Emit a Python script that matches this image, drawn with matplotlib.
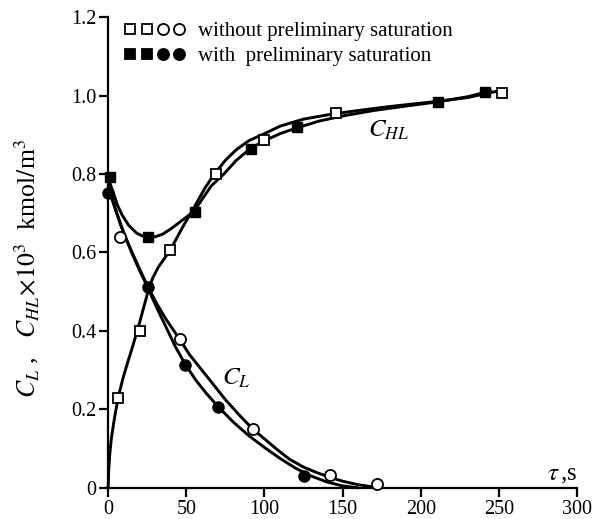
import matplotlib
matplotlib.use("Agg")
import matplotlib.pyplot as plt
from matplotlib.lines import Line2D
from matplotlib.legend_handler import HandlerTuple

plt.rcParams['font.family'] = ['Liberation Serif', 'DejaVu Serif']
plt.rcParams['mathtext.fontset'] = 'stix'

# measured points
hl_wo_x = [6.6, 20.5, 39.7, 69, 99.4, 145.7, 251.9]
hl_wo_y = [0.228, 0.40, 0.606, 0.80, 0.888, 0.955, 1.007]
hl_w_x = [1.3, 25.4, 55.5, 91.3, 120.7, 211, 241]
hl_w_y = [0.792, 0.639, 0.704, 0.865, 0.919, 0.984, 1.01]
l_wo_x = [7.7, 46, 92.6, 142, 172]
l_wo_y = [0.639, 0.379, 0.149, 0.033, 0.01]
l_w_x = [0, 25.4, 49.3, 70.6, 125]
l_w_y = [0.751, 0.513, 0.313, 0.206, 0.031]

# fitted curves
fit_hl_wo_x = [0, 0.3, 1, 2, 3.5, 5, 7, 9.5, 12.5, 16, 20, 25.8, 28.5, 32, 36, 39.7, 47,
               55, 62, 68, 75, 82, 90, 100, 110, 125, 142, 160, 180, 210, 230, 250]
fit_hl_wo_y = [0, 0.04, 0.085, 0.125, 0.165, 0.2, 0.24, 0.28, 0.32, 0.365, 0.42, 0.505,
               0.535, 0.562, 0.585, 0.606, 0.66, 0.715, 0.765, 0.80, 0.835, 0.862, 0.885,
               0.903, 0.922, 0.94, 0.952, 0.962, 0.972, 0.985, 0.995, 1.012]
fit_hl_w_x = [0, 3, 6, 9, 13, 18, 22, 26, 30, 35, 40, 45, 50, 55, 60, 66, 74, 82, 91, 100,
              110, 121, 135, 150, 170, 190, 211, 230, 245]
fit_hl_w_y = [0.79, 0.755, 0.72, 0.695, 0.67, 0.65, 0.642, 0.638, 0.64, 0.647, 0.66, 0.675,
              0.69, 0.705, 0.735, 0.77, 0.80, 0.835, 0.865, 0.885, 0.903, 0.918, 0.935,
              0.948, 0.962, 0.973, 0.984, 0.997, 1.012]
fit_l_wo_x = [0, 4, 8, 12, 17, 21, 25.8, 31, 37, 46, 52, 59, 67, 75, 84, 92.6, 100, 108,
              116, 125, 134, 142, 150, 160, 170]
fit_l_wo_y = [0.77, 0.72, 0.67, 0.63, 0.585, 0.55, 0.51, 0.47, 0.43, 0.377, 0.34, 0.305,
              0.265, 0.225, 0.185, 0.15, 0.125, 0.098, 0.073, 0.053, 0.038, 0.027, 0.017,
              0.008, 0.002]
fit_l_w_x = [0, 5, 10, 15, 20, 25.4, 31, 37, 43, 49.3, 56, 63, 70.6, 80, 90, 100, 110, 120,
             130, 140, 150, 160]
fit_l_w_y = [0.765, 0.705, 0.65, 0.6, 0.555, 0.51, 0.46, 0.41, 0.36, 0.315, 0.275, 0.24,
             0.206, 0.168, 0.133, 0.103, 0.075, 0.05, 0.03, 0.015, 0.005, 0.0]

xticks = [0, 50, 100, 150, 200, 250, 300]
yticks = [0, 0.2, 0.4, 0.6, 0.8, 1.0, 1.2]
ytick_labels = ['0', '0.2', '0.4', '0.6', '0.8', '1.0', '1.2']

fig = plt.figure(figsize=(6.01, 5.19), dpi=100)
ax = fig.add_axes([0.18, 0.06, 0.78, 0.907])

lw = 2.1
for cx, cy in [(fit_hl_wo_x, fit_hl_wo_y), (fit_hl_w_x, fit_hl_w_y),
               (fit_l_wo_x, fit_l_wo_y), (fit_l_w_x, fit_l_w_y)]:
    ax.plot(cx, cy, color='black', lw=lw, solid_capstyle='round', solid_joinstyle='round',
            clip_on=False, zorder=2)

ms = 7.5
ax.plot(hl_wo_x, hl_wo_y, 's', ms=ms, mfc='white', mec='black', mew=1.3, clip_on=False, zorder=3)
ax.plot(hl_w_x, hl_w_y, 's', ms=ms, mfc='black', mec='black', clip_on=False, zorder=3)
ax.plot(l_wo_x, l_wo_y, 'o', ms=ms + 0.5, mfc='white', mec='black', mew=1.3, clip_on=False, zorder=3)
ax.plot(l_w_x, l_w_y, 'o', ms=ms + 0.5, mfc='black', mec='black', clip_on=False, zorder=3)

ax.set_xlim(0, 300)
ax.set_ylim(0, 1.2)
ax.spines['top'].set_visible(False)
ax.spines['right'].set_visible(False)
for s in ['left', 'bottom']:
    ax.spines[s].set_linewidth(1.6)
ax.set_xticks(xticks)
ax.set_yticks(yticks)
ax.set_yticklabels(ytick_labels)
ax.tick_params(direction='out', length=6.5, width=1.6, labelsize=14.5, pad=2)

ax.set_ylabel(r'$C_L$ ,   $C_{HL}\!\times\!10^3$  kmol$/$m$^3$', fontsize=18.5)
ax.yaxis.set_label_coords(-0.143, 0.467)

ax.text(166, 0.894, r'$C_{HL}$', fontsize=18, ha='left', va='baseline')
ax.text(72.7, 0.262, r'$C_{L}$', fontsize=18, ha='left', va='baseline')
ax.text(281, 0.02, r'$\tau\,$,s', fontsize=18, ha='left', va='baseline', clip_on=False)

def mk(m, fill):
    return Line2D([], [], marker=m, ls='none', ms=ms if m == 's' else ms + 0.5,
                  mfc='black' if fill else 'white', mec='black', mew=1.3)

handles = [(mk('s', False), mk('s', False), mk('o', False), mk('o', False)),
           (mk('s', True), mk('s', True), mk('o', True), mk('o', True))]
labels = ['without preliminary saturation', 'with  preliminary saturation']
ax.legend(handles, labels, handler_map={tuple: HandlerTuple(ndivide=None, pad=0)},
          loc='upper left', bbox_to_anchor=(0.008, 1.012), frameon=False, fontsize=15,
          handlelength=3.1, handletextpad=0.55, labelspacing=0.25, borderpad=0)

fig.savefig('out.png', dpi=100)
